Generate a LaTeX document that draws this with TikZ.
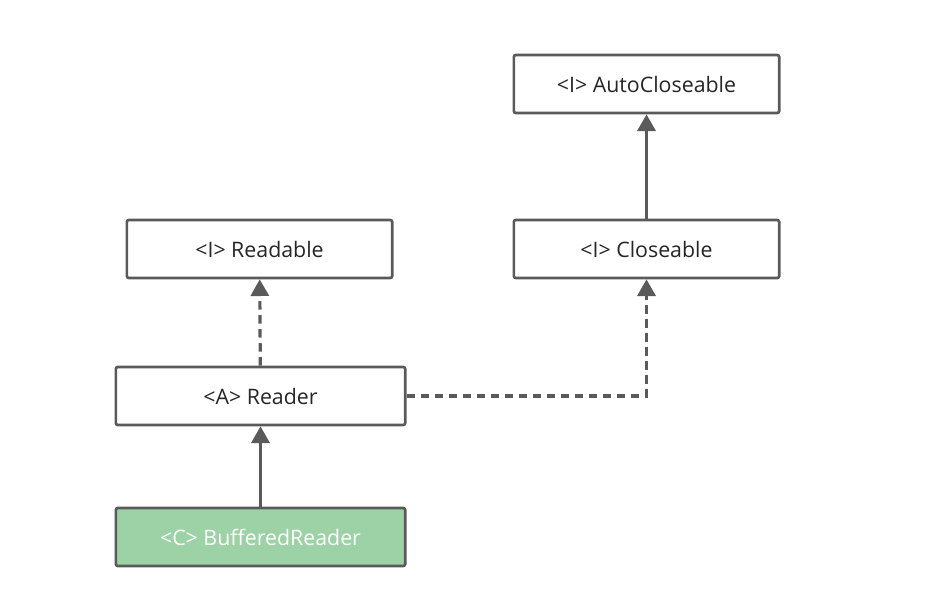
\documentclass[tikz,border=0pt]{standalone}
\usepackage{fontspec}
\setmainfont{Open Sans}
\usetikzlibrary{arrows.meta}
\definecolor{linegray}{HTML}{5A5A5A}
\definecolor{classgreen}{HTML}{9DD2A6}
\tikzset{
  umlbox/.style={draw=linegray, line width=2pt, rounded corners=1.5pt, fill=white,
    minimum width=199pt, minimum height=43.5pt, inner sep=0pt,
    font=\fontsize{16}{19}\selectfont, text=black!85},
  widebox/.style={umlbox, minimum width=217pt},
  extends/.style={draw=linegray, line width=2.4pt, -{Triangle[width=13.5pt,length=12.5pt]}},
  implements/.style={extends, dash pattern=on 6.5pt off 4pt}
}
\begin{document}
\begin{tikzpicture}[x=0.75pt,y=-0.75pt]
                \useasboundingbox (0,0) rectangle (952,590);
                \node [umlbox] (autocloseable) at (646.5, 84) {<I> AutoCloseable};
                \node [umlbox] (closeable) at (646.5, 249) {<I> Closeable};
                \node [umlbox] (readable) at (259.5, 249) {<I> Readable};
                \node [widebox] (reader) at (260.5, 396) {<A> Reader};
                \node [widebox, fill=classgreen, text=white] (buffered) at (260.5, 537) {<C> BufferedReader};
                % inheritance
                \draw [extends] (closeable) -- (autocloseable);
                \draw [extends] (buffered) -- (reader);
                % interfaces
                \draw [implements] (reader) -- (readable);
                \draw [implements] (reader.east) -| (closeable.south);
\end{tikzpicture}
\end{document}
